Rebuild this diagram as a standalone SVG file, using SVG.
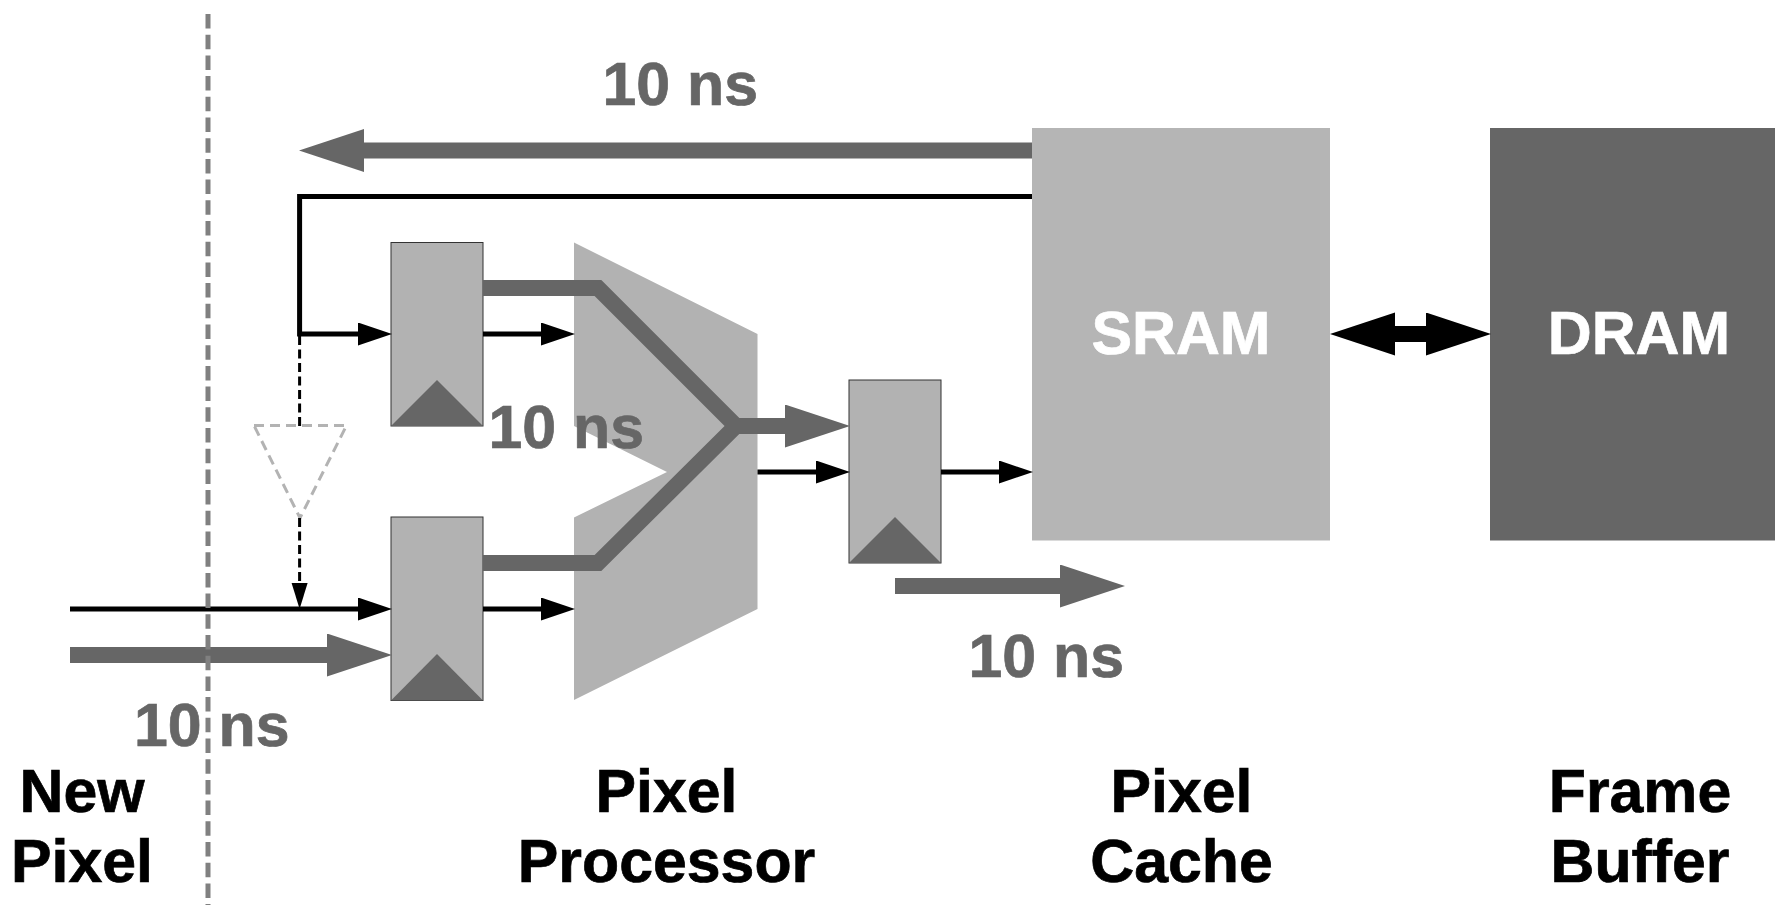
<svg xmlns="http://www.w3.org/2000/svg" width="1775" height="905" viewBox="0 0 1775 905">
  <style>
    text { font-family: "Liberation Sans", Arial, sans-serif; font-weight: 700; font-size: 60.800px; stroke-width: 0.700px; }
    .label { fill: #000; stroke: #000; text-anchor: middle; }
    .time { fill: #666; stroke: #666; }
    .mem { fill: #fff; stroke: #fff; text-anchor: middle; }
    .reg { fill: #b2b2b2; stroke: #333; stroke-width: 1; }
    .clk { fill: #666; }
    .thin { fill: none; stroke: #000; stroke-width: 5; }
    .thick { fill: none; stroke: #666; stroke-width: 16; }
    .dash { fill: none; stroke: #000; stroke-width: 3; stroke-dasharray: 9 4.5; }
  </style>
  <defs>
    <marker id="headThin" markerUnits="userSpaceOnUse" markerWidth="36" markerHeight="24" refX="0" refY="11.500" orient="auto"><path d="M0 0L34 11.500L0 23Z" fill="#000"/></marker>
    <marker id="headThick" markerUnits="userSpaceOnUse" markerWidth="67" markerHeight="44" refX="0" refY="21.500" orient="auto"><path d="M0 0L65 21.500L0 43Z" fill="#666"/></marker>
    <marker id="headBlack" markerUnits="userSpaceOnUse" markerWidth="67" markerHeight="44" refX="0" refY="21.500" orient="auto-start-reverse"><path d="M0 0L65 21.500L0 43Z" fill="#000"/></marker>
    <marker id="headDash" markerUnits="userSpaceOnUse" markerWidth="27" markerHeight="18" refX="0" refY="8" orient="auto"><path d="M0 0L26 8L0 16Z" fill="#000"/></marker>
  </defs>

  <g id="mux"><path d="M574 242.500L757.500 334V609L574 700V517.500L667 472L574 426Z" fill="#b2b2b2"/></g>
  <g id="reg1"><rect class="reg" x="391" y="242.500" width="92" height="183.500"/><path class="clk" d="M391 426L437 380L483 426Z"/></g>
  <g id="reg2"><rect class="reg" x="391" y="517" width="92" height="183.500"/><path class="clk" d="M391 700.500L437 654L483 700.500Z"/></g>
  <g id="reg3"><rect class="reg" x="849" y="380" width="92" height="183"/><path class="clk" d="M849 563L895 517L941 563Z"/></g>
  <g id="sram"><rect x="1032" y="128" width="298" height="412.500" fill="#b5b5b5"/><text class="mem" x="1181" y="354">SRAM</text></g>
  <g id="dram"><rect x="1490" y="128" width="285" height="412.500" fill="#666"/><text class="mem" x="1639" y="354">DRAM</text></g>
  <g id="buffer"><path d="M254 425.500H346.500L300 518Z" fill="none" stroke="#b3b3b3" stroke-width="3" stroke-dasharray="10 6"/></g>

  <g id="connectors">
    <path class="thick" d="M483 288H598L736 426L598 563H483"/>
    <path class="thick" d="M736 426H785" marker-end="url(#headThick)"/>
    <path class="thick" d="M1032 150.500H364" marker-end="url(#headThick)"/>
    <path class="thick" d="M895 586H1060" marker-end="url(#headThick)"/>
    <path class="thick" d="M70 655H327" marker-end="url(#headThick)"/>
    <path d="M1395 334H1426" fill="none" stroke="#000" stroke-width="16" marker-start="url(#headBlack)" marker-end="url(#headBlack)"/>
    <path class="thin" d="M1032 196.500H299.600V334H358" marker-end="url(#headThin)"/>
    <path class="thin" d="M483 334H541" marker-end="url(#headThin)"/>
    <path class="thin" d="M483 609H541" marker-end="url(#headThin)"/>
    <path class="thin" d="M70 609H358" marker-end="url(#headThin)"/>
    <path class="thin" d="M757.500 472H816" marker-end="url(#headThin)"/>
    <path class="thin" d="M941 472H999" marker-end="url(#headThin)"/>
    <path class="dash" d="M299.600 336V426"/>
    <path class="dash" d="M299.600 518V583" marker-end="url(#headDash)"/>
    <path d="M208 14V905" fill="none" stroke="#808080" stroke-width="5" stroke-dasharray="14.500 6.200"/>
  </g>

  <g id="timings">
    <text class="time" x="602.500" y="105">10 ns</text>
    <text class="time" x="488.500" y="448">10 ns</text>
    <text class="time" x="968.500" y="677">10 ns</text>
    <text class="time" x="134" y="746">10 ns</text>
  </g>
  <g id="label-new-pixel"><text class="label" x="82" y="811.500">New</text><text class="label" x="82" y="881.500">Pixel</text></g>
  <g id="label-pixel-processor"><text class="label" x="666.500" y="811.500">Pixel</text><text class="label" x="666.500" y="881.500">Processor</text></g>
  <g id="label-pixel-cache"><text class="label" x="1181.500" y="811.500">Pixel</text><text class="label" x="1181.500" y="881.500">Cache</text></g>
  <g id="label-frame-buffer"><text class="label" x="1640" y="811.500">Frame</text><text class="label" x="1640" y="881.500">Buffer</text></g>
</svg>
